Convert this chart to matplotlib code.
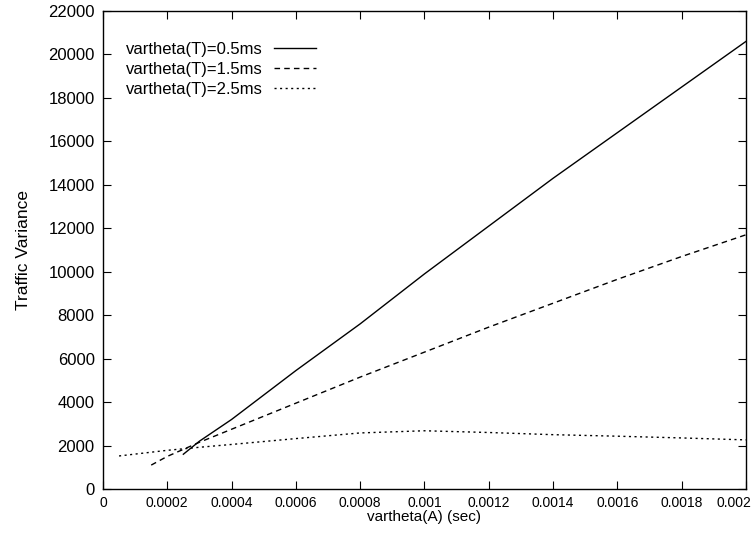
import numpy as np
import matplotlib
matplotlib.use('Agg')
import matplotlib.pyplot as plt
from matplotlib.ticker import MultipleLocator, FuncFormatter
from matplotlib.transforms import ScaledTranslation

plt.rcParams['font.family'] = ['Liberation Sans', 'DejaVu Sans']

# vartheta(T) = 0.5 ms
xa = [0.00025, 0.0003, 0.0004, 0.0006, 0.0008, 0.0010, 0.0012, 0.0014, 0.0016, 0.0018, 0.0020]
ya = [1600, 2200, 3200, 5450, 7600, 9900, 12100, 14300, 16400, 18500, 20600]
# vartheta(T) = 1.5 ms
xb = [0.00015, 0.0002, 0.0003, 0.0004, 0.0006, 0.0008, 0.0010, 0.0012, 0.0014, 0.0016, 0.0018, 0.0020]
yb = [1100, 1500, 2150, 2750, 3950, 5150, 6300, 7450, 8550, 9650, 10700, 11700]
# vartheta(T) = 2.5 ms
xc = [0.00005, 0.0002, 0.0003, 0.0004, 0.0006, 0.0008, 0.0010, 0.0012, 0.0014, 0.0016, 0.0018, 0.0020]
yc = [1520, 1780, 1920, 2050, 2320, 2580, 2680, 2600, 2500, 2430, 2350, 2260]

labels = ['vartheta(T)=0.5ms', 'vartheta(T)=1.5ms', 'vartheta(T)=2.5ms']

fig = plt.figure(figsize=(7.55, 5.37), dpi=100)
ax = fig.add_axes([0.1364, 0.0894, 0.8516, 0.8901])

ax.plot(xa, ya, color='k', lw=1.0, linestyle='solid', label=labels[0])
ax.plot(xb, yb, color='k', lw=1.0, linestyle=(0, (4, 3)), label=labels[1])
ax.plot(xc, yc, color='k', lw=1.0, linestyle=(0, (1.5, 2.5)), label=labels[2])

ax.set_xlim(0, 0.002)
ax.set_ylim(0, 22000)
ax.xaxis.set_major_locator(MultipleLocator(0.0002))
ax.yaxis.set_major_locator(MultipleLocator(2000))
ax.xaxis.set_major_formatter(FuncFormatter(lambda v, p: '%g' % round(v, 6)))
ax.yaxis.set_major_formatter(FuncFormatter(lambda v, p: '%d' % v))

ax.tick_params(direction='in', length=6, width=0.8, top=True, right=True,
               labelsize=12, pad=6)
ax.tick_params(axis='x', labelsize=10, pad=5)
for s in ax.spines.values():
    s.set_linewidth(1.0)

ax.set_xlabel('vartheta(A) (sec)', fontsize=11, labelpad=0)
ax.set_ylabel('Traffic Variance', fontsize=12.5, labelpad=12)

ax.legend(loc='upper left', bbox_to_anchor=(0.025, 0.95), frameon=False,
          markerfirst=False, handlelength=2.5, fontsize=12,
          labelspacing=0.3, handletextpad=0.7, borderaxespad=0)

# keep the last x label inside the figure
fig.canvas.draw()
for tk in ax.xaxis.get_major_ticks():
    if tk.label1.get_text() == '0.002':
        tk.label1.set_transform(tk.label1.get_transform() +
                                ScaledTranslation(-9 / 72, 0, fig.dpi_scale_trans))

fig.savefig('out.png', dpi=100)
